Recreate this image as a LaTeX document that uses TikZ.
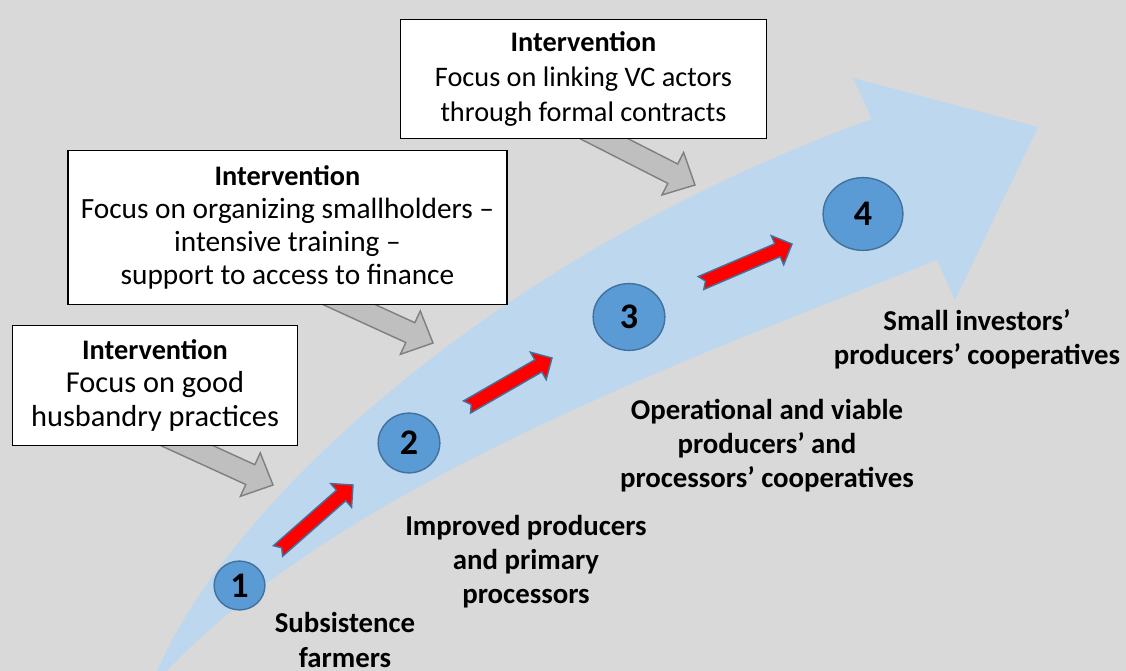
\documentclass[tikz,border=0pt]{standalone}
\usepackage{fontspec}
\setmainfont{Carlito}
\usetikzlibrary{calc,shapes.geometric}
\definecolor{bgcol}{HTML}{D9D9D9}
\definecolor{flowcol}{HTML}{BDD7EE}
\definecolor{cfill}{HTML}{5B9BD5}
\definecolor{cline}{HTML}{41719C}
\definecolor{gfill}{HTML}{BFBFBF}
\definecolor{gline}{HTML}{7F7F7F}
\newcommand\blockarr[7]{%
  \coordinate (ba-h) at ($(#3)!#6!(#2)$);
  \draw[#1] ($(#2)!#4!90:(#3)$) -- ($(ba-h)!#4!90:(#3)$) -- ($(ba-h)!#5!90:(#3)$) -- (#3)
    -- ($(ba-h)!#5!-90:(#3)$) -- ($(ba-h)!#4!-90:(#3)$) -- ($(#2)!#4!-90:(#3)$)
    -- ($(#2)!#7!(#3)$) -- cycle;
}
\newcommand\hdr{\fontsize{16.1}{19}\selectfont\bfseries Intervention}
\begin{document}
\begin{tikzpicture}[x=0.02cm,y=-0.02cm,
  ibox/.style={draw=black, fill=white, line width=0.8pt, inner sep=0pt, align=center},
  lbl/.style={align=center, inner sep=0pt, font=\bfseries\fontsize{16.4}{19.4}\selectfont},
  numc/.style={ellipse, draw=cline, fill=cfill, line width=0.8pt, inner sep=0pt,
    font=\bfseries\fontsize{20.5}{24}\selectfont},
  redarr/.style={fill=red, draw=cline, line width=0.8pt, line join=miter},
  grayarr/.style={fill=gfill, draw=gline, line width=0.8pt, line join=miter}]
\useasboundingbox (0,0) rectangle (1126,671);
\fill[bgcol] (0,0) rectangle (1126,671);
% big flow arrow
\begin{scope}
\clip (0,0) rectangle (1126,671);
\fill[flowcol] (150,690) .. controls (205,530) and (470,265) .. (872,119)
  -- (853,78) -- (1038,127) -- (955,300) -- (937,260)
  .. controls (700,355) and (320,490) .. (150,690) -- cycle;
\end{scope}
% gray arrows (under the boxes)
\coordinate (g1a) at (155,431); \coordinate (g1b) at (273,485);
\coordinate (g2a) at (315,289); \coordinate (g2b) at (433,343);
\coordinate (g3a) at (583,128); \coordinate (g3b) at (695,185);
\blockarr{grayarr}{g1a}{g1b}{6.2pt}{13.6pt}{14.2pt}{0pt}
\blockarr{grayarr}{g2a}{g2b}{6.2pt}{13.6pt}{14.2pt}{0pt}
\blockarr{grayarr}{g3a}{g3b}{6.2pt}{13.6pt}{14.2pt}{0pt}
% intervention boxes
\node[ibox, minimum width=162.1pt, minimum height=68.6pt,
  font=\fontsize{17.3}{18.8}\selectfont] (b1) at (155,385.5)
  {\hdr\\Focus on good\\husbandry practices};
\node[ibox, minimum width=250pt, minimum height=87.9pt,
  font=\fontsize{16.7}{18.8}\selectfont] (b2) at (287.5,227.5)
  {\hdr\\Focus on organizing smallholders –\\intensive training –\\support to access to finance};
\node[ibox, minimum width=208pt, minimum height=67.5pt,
  font=\fontsize{16.1}{20}\selectfont] (b3) at (583.5,79)
  {\hdr\\Focus on linking VC actors\\through formal contracts};
% red arrows
\coordinate (r1a) at (278,551); \coordinate (r1b) at (353,485);
\coordinate (r2a) at (467,407); \coordinate (r2b) at (552,358);
\coordinate (r3a) at (701,283); \coordinate (r3b) at (792,244);
\blockarr{redarr}{r1a}{r1b}{4pt}{9pt}{9pt}{2.8pt}
\blockarr{redarr}{r2a}{r2b}{4pt}{9pt}{9pt}{2.8pt}
\blockarr{redarr}{r3a}{r3b}{4pt}{9pt}{9pt}{2.8pt}
% stage circles
\node[numc, minimum width=28.9pt, minimum height=27.8pt] (c1) at (239.5,585.5) {1};
\node[numc, minimum width=35.1pt, minimum height=34pt] (c2) at (409,443) {2};
\node[numc, minimum width=40.8pt, minimum height=38pt] (c3) at (629,317) {3};
\node[numc, minimum width=45.4pt, minimum height=41.4pt] (c4) at (863,214) {4};
% stage labels
\node[lbl] (l1) at (345,640) {Subsistence\\farmers};
\node[lbl] (l2) at (526,562) {Improved producers\\and primary\\processors};
\node[lbl] (l3) at (767,446) {Operational and viable\\producers’ and\\processors’ cooperatives};
\node[lbl] (l4) at (977,339.5) {Small investors’\\producers’ cooperatives};
\end{tikzpicture}
\end{document}
